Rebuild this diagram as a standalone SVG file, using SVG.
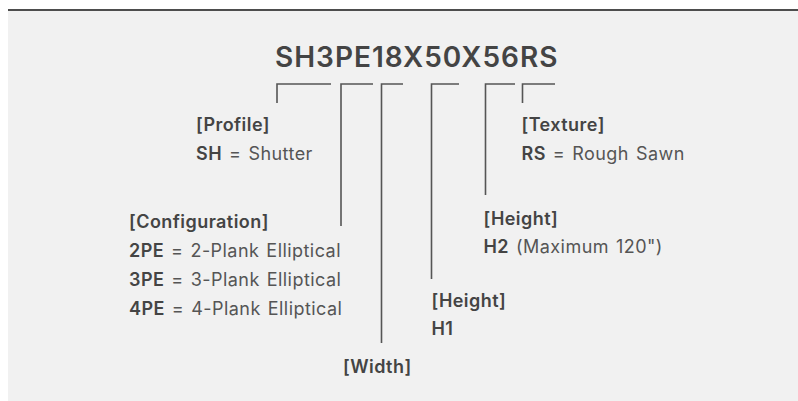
<svg xmlns="http://www.w3.org/2000/svg" width="798" height="401" viewBox="0 0 798 401">
<style>
.t{font-family:Inter,"Noto Sans","Liberation Sans",sans-serif;font-size:18px;fill:#555;letter-spacing:0.45px;word-spacing:1.5px}
.b{font-weight:600;fill:#444}
.title{font-family:Inter,"Noto Sans","Liberation Sans",sans-serif;font-size:28px;font-weight:600;fill:#444;letter-spacing:1px}
.c{fill:none;stroke:#555;stroke-width:1.6}
</style>
<rect x="8" y="10" width="790" height="391" fill="#f1f1f1"/>
<line x1="8" y1="10" x2="798" y2="10" stroke="#4d4d4d" stroke-width="2"/>
<g id="title"><text class="title" x="275" y="67">SH3PE18X50X56RS</text></g>
<g id="connectors">
<path class="c" d="M277,103 V84 H331"/>
<path class="c" d="M341,226 V84 H373"/>
<path class="c" d="M381.5,343 V84 H403"/>
<path class="c" d="M431.5,279 V84 H459"/>
<path class="c" d="M485.5,195 V84 H515"/>
<path class="c" d="M522.5,103 V84 H555"/>
</g>
<g id="profile">
<text class="t b" x="196" y="131">[Profile]</text>
<text class="t" x="196" y="160"><tspan class="b">SH</tspan> = Shutter</text>
</g>
<g id="configuration">
<text class="t b" x="129" y="228">[Configuration]</text>
<text class="t" x="129" y="257"><tspan class="b">2PE</tspan> = 2-Plank Elliptical</text>
<text class="t" x="129" y="286"><tspan class="b">3PE</tspan> = 3-Plank Elliptical</text>
<text class="t" x="129" y="315"><tspan class="b">4PE</tspan> = 4-Plank Elliptical</text>
</g>
<g id="width">
<text class="t b" x="343" y="373">[Width]</text>
</g>
<g id="height1">
<text class="t b" x="431.5" y="307">[Height]</text>
<text class="t b" x="431.5" y="335">H1</text>
</g>
<g id="height2">
<text class="t b" x="483.5" y="225">[Height]</text>
<text class="t" x="483.5" y="253"><tspan class="b">H2</tspan> (Maximum 120")</text>
</g>
<g id="texture">
<text class="t b" x="521.5" y="131">[Texture]</text>
<text class="t" x="521.5" y="160"><tspan class="b">RS</tspan> = Rough Sawn</text>
</g>
</svg>
